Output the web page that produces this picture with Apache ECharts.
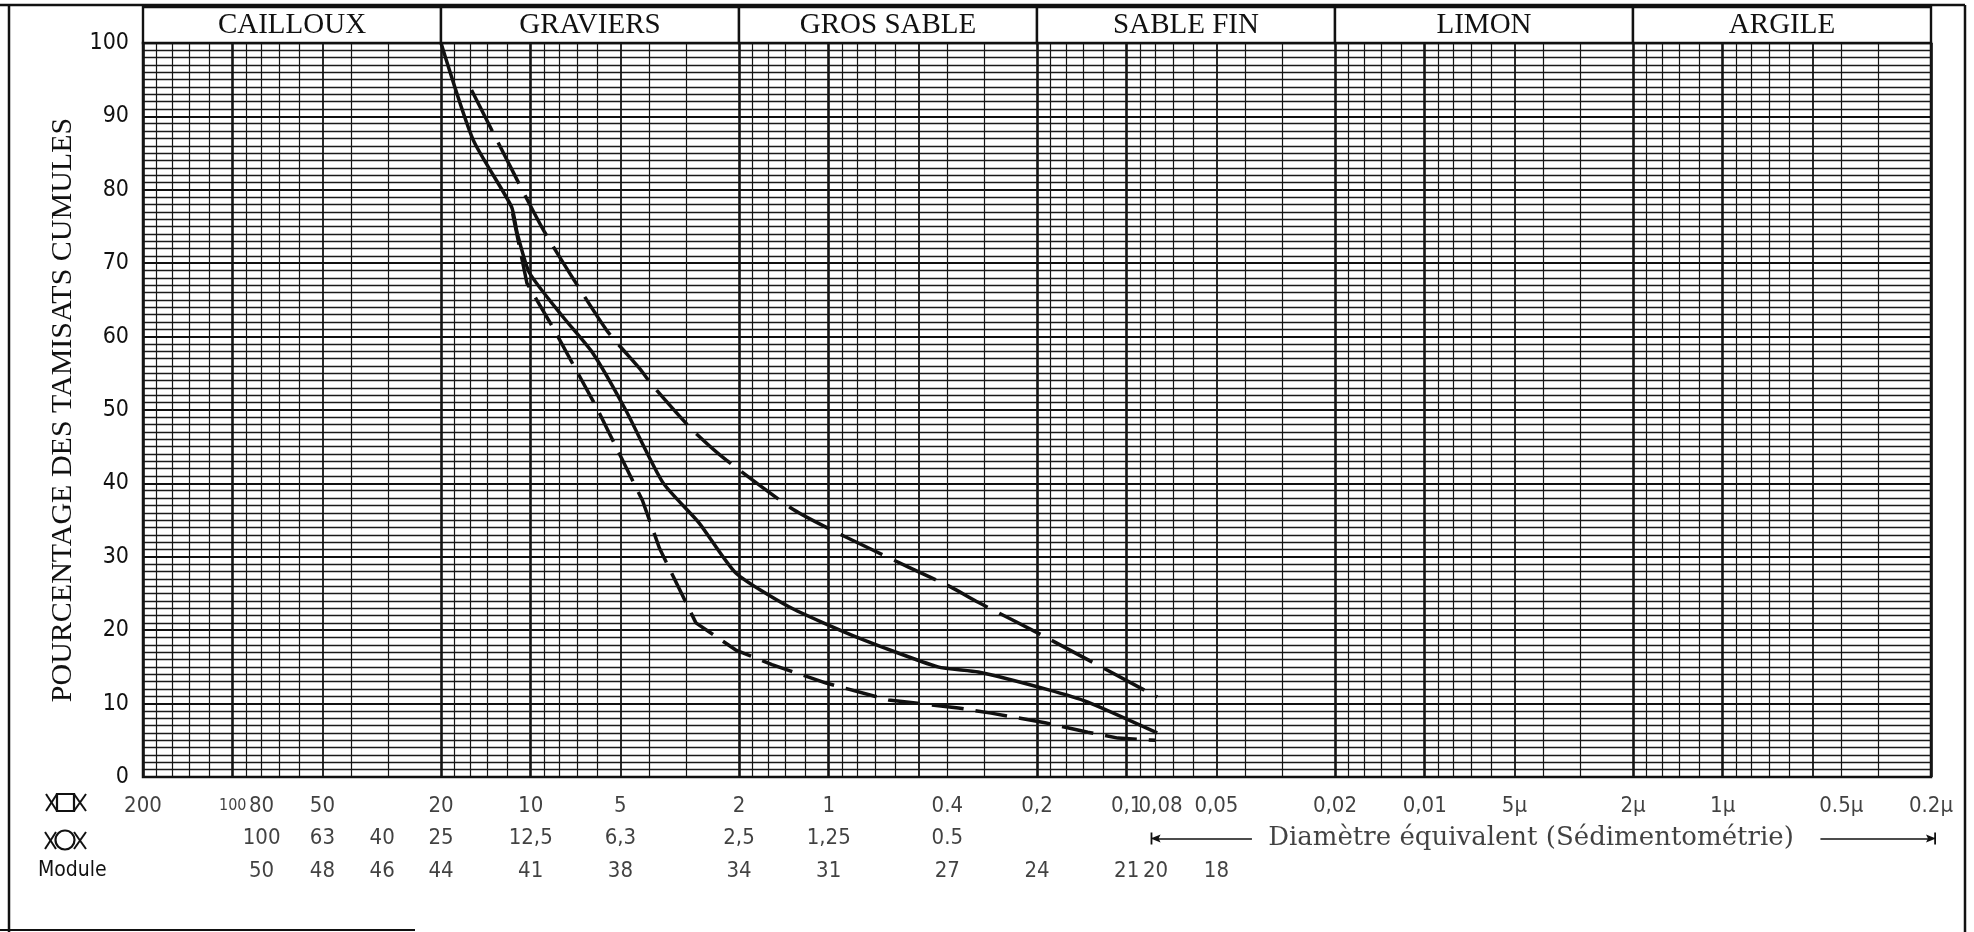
<!DOCTYPE html>
<html>
<head>
<meta charset="utf-8">
<title>Courbe granulométrique</title>
<script src="https://cdn.jsdelivr.net/npm/echarts@6/dist/echarts.min.js"></script>
<style>
html,body{margin:0;padding:0;background:#fff;}
#chart{width:1974px;height:932px;}
</style>
</head>
<body>
<div id="chart"></div>
<script>
// domaines granulometriques (en-tete) et leurs bornes en mm
var domaines = ['CAILLOUX', 'GRAVIERS', 'GROS SABLE', 'SABLE FIN', 'LIMON', 'ARGILE'];
var bornes = [200, 20, 2, 0.2, 0.02, 0.002, 0.0002];

// papier log : mantisses et decades du quadrillage vertical
var mantisses = [1.2, 1.4, 1.6, 1.8, 2, 3, 4, 5, 6, 7, 8, 9, 10];
var decades = [0.0001, 0.001, 0.01, 0.1, 1, 10, 100];

// ligne 1 : tamis a mailles carrees
var posCarres = [200, 100, 80, 50, 20, 10, 5, 2, 1, 0.4, 0.2, 0.1, 0.077, 0.05, 0.02, 0.01, 0.005, 0.002, 0.001, 0.0004, 0.0002];
var txtCarres = ['200', '100', '80', '50', '20', '10', '5', '2', '1', '0.4', '0,2', '0,1', '0,08', '0,05', '0,02', '0,01', '5µ', '2µ', '1µ', '0.5µ', '0.2µ'];
// ligne 2 : passoires a trous ronds
var posRonds = [80, 50, 31.5, 20, 10, 5, 2, 1, 0.4];
var txtRonds = ['100', '63', '40', '25', '12,5', '6,3', '2,5', '1,25', '0.5'];
// ligne 3 : module
var posModules = [80, 50, 31.5, 20, 10, 5, 2, 1, 0.4, 0.2, 0.1, 0.08, 0.05];
var txtModules = ['50', '48', '46', '44', '41', '38', '34', '31', '27', '24', '21', '20', '18'];

// courbes : [diametre mm, % tamisat cumule]
var courbe = [[20, 100], [15.6, 86.8], [11.6, 77.7], [11.1, 74.1], [10.1, 68.7], [7.8, 62.7], [6.2, 57.8], [4.8, 50], [3.6, 40.1], [2.72, 34.6], [2.05, 27.8], [1.36, 23.2], [0.81, 19.1], [0.43, 15], [0.315, 14.3], [0.184, 11.9], [0.135, 10.2], [0.079, 6]];
var fuseauHaut = [[15.8, 93.6], [13, 86.8], [9, 74.3], [5.57, 60.9], [4.32, 55.7], [3.91, 53.4], [2.87, 47.3], [2.21, 43.2], [1.31, 36.4], [0.93, 33.2], [0.54, 28.6], [0.39, 25.9], [0.315, 23.8], [0.188, 19.1], [0.079, 10.9]];
var fuseauBas = [[11.5, 76.8], [10.3, 67.3], [8.44, 61.3], [6.02, 50.4], [4.22, 37.7], [3.7, 31.2], [2.79, 21], [2.05, 17.3], [1.55, 15.3], [1.02, 12.8], [0.63, 10.5], [0.367, 9.4], [0.285, 8.7], [0.188, 7.4], [0.135, 6.1], [0.107, 5.3], [0.08, 5]];

var noir = '#111';
var sans = "'DejaVu Sans Condensed', 'Liberation Sans Narrow', 'DejaVu Sans', sans-serif";
var serif = "'Liberation Serif', 'DejaVu Serif', serif";

// lignes verticales du papier log
var lignesV = [];
decades.forEach(function (d) {
	mantisses.forEach(function (m) {
		var v = +(m * d).toPrecision(6);
		if (v < 0.0002 || v > 200) return;
		var w = (m === 10 || m === 2) ? 2.6 : (m === 5 ? 1.8 : 1.2);
		lignesV.push({xAxis: v, lineStyle: {width: w}});
	});
});

function etiquettes(pos, txt, rang) {
	return pos.map(function (v, i) {
		return {name: txt[i], value: [v, rang]};
	});
}

function serieEtiquettes(pos, txt, rang) {
	return {
		type: 'scatter', xAxisIndex: 2, yAxisIndex: 2, silent: true,
		symbolSize: 1, itemStyle: {color: 'rgba(0,0,0,0)'},
		label: {show: true, position: 'inside', formatter: '{b}', color: noir, fontFamily: sans, fontSize: 22},
		data: etiquettes(pos, txt, rang)
	};
}

function croix(x0, x1, y0, y1) {
	return [
		{type: 'line', shape: {x1: x0, y1: y0, x2: x1, y2: y1}, style: {stroke: noir, lineWidth: 2}},
		{type: 'line', shape: {x1: x0, y1: y1, x2: x1, y2: y0}, style: {stroke: noir, lineWidth: 2}}
	];
}

var fleche = 'path://M0,0 L12,0 L12,1.8 L0,1.8 Z M6,0 L10,10 L6,8 L2,10 Z';

var axeLog = {type: 'log', logBase: 10, min: 0.0002, max: 200, inverse: true, show: false};

var ligneCarres = serieEtiquettes(posCarres, txtCarres, 'r1');
// le "100" est serre contre le "80" sur l'abaque
ligneCarres.data[1].label = {fontSize: 16};

var myChart = echarts.init(document.getElementById('chart'));

var option = {
	animation: false,
	backgroundColor: '#fff',
	grid: [
		{left: 143, top: 43, width: 1788, height: 734, show: true, borderColor: noir, borderWidth: 2.5},
		{left: 143, top: 7, width: 1788, height: 36},
		{left: 143, top: 790, width: 1788, height: 97}
	],
	xAxis: [
		Object.assign({gridIndex: 0}, axeLog),
		Object.assign({gridIndex: 1}, axeLog),
		Object.assign({gridIndex: 2}, axeLog)
	],
	yAxis: [{
		gridIndex: 0, type: 'value', min: 0, max: 100, interval: 10,
		name: 'POURCENTAGE DES TAMISATS CUMULES',
		nameLocation: 'middle', nameGap: 60, nameRotate: 90,
		nameTextStyle: {fontFamily: serif, fontSize: 30, color: noir},
		axisLine: {show: false},
		axisTick: {show: false},
		axisLabel: {color: noir, fontFamily: sans, fontSize: 23, margin: 14},
		splitLine: {lineStyle: {color: noir, width: 2}},
		minorTick: {show: false, splitNumber: 10},
		minorSplitLine: {show: true, lineStyle: {color: '#1a1a1a', width: 1.3}}
	}, {
		gridIndex: 1, type: 'value', min: 0, max: 1, show: false
	}, {
		gridIndex: 2, type: 'category', data: ['r1', 'r2', 'r3'], inverse: true, show: false
	}],
	graphic: [
		{type: 'line', shape: {x1: 9, y1: 5, x2: 9, y2: 932}, style: {stroke: noir, lineWidth: 2.5}},
		{type: 'line', shape: {x1: 0, y1: 5, x2: 1965, y2: 5}, style: {stroke: noir, lineWidth: 2.5}},
		{type: 'line', shape: {x1: 1965, y1: 5, x2: 1965, y2: 932}, style: {stroke: noir, lineWidth: 2.5}},
		{type: 'line', shape: {x1: 0, y1: 930, x2: 415, y2: 930}, style: {stroke: noir, lineWidth: 2}},
		// symbole tamis carre
		{type: 'rect', shape: {x: 57, y: 794, width: 17, height: 17}, style: {stroke: noir, fill: 'none', lineWidth: 2.2}}
	].concat(croix(46, 57, 794, 811), croix(74, 86, 794, 811), [
		// symbole passoire ronde
		{type: 'circle', shape: {cx: 65, cy: 840, r: 9.5}, style: {stroke: noir, fill: 'none', lineWidth: 2.2}},
		{type: 'text', left: 38, top: 860, style: {text: 'Module', fill: noir, font: '21px ' + sans}}
	]).concat(croix(45, 56, 832, 849), croix(74, 86, 832, 849)),
	series: [{
		// quadrillage vertical
		type: 'line', xAxisIndex: 0, yAxisIndex: 0, data: [], silent: true, z: 1,
		markLine: {
			silent: true, animation: false, symbol: ['none', 'none'], precision: 8,
			label: {show: false}, emphasis: {disabled: true},
			lineStyle: {color: '#151515', type: 'solid', width: 1.2},
			data: lignesV
		}
	}, {
		name: 'Courbe', type: 'line', xAxisIndex: 0, yAxisIndex: 0, z: 5,
		showSymbol: false, smooth: 0.2,
		lineStyle: {color: noir, width: 3.5},
		data: courbe
	}, {
		name: 'Fuseau haut', type: 'line', xAxisIndex: 0, yAxisIndex: 0, z: 5,
		showSymbol: false, smooth: 0.2,
		lineStyle: {color: noir, width: 3.5, type: [46, 13]},
		data: fuseauHaut
	}, {
		name: 'Fuseau bas', type: 'line', xAxisIndex: 0, yAxisIndex: 0, z: 5,
		showSymbol: false,
		lineStyle: {color: noir, width: 3.5, type: [32, 12]},
		data: fuseauBas
	}, {
		// en-tete des domaines
		type: 'line', xAxisIndex: 1, yAxisIndex: 1, data: [], silent: true,
		markArea: {
			silent: true,
			itemStyle: {color: '#fff', borderColor: noir, borderWidth: 2.4},
			label: {show: true, position: 'inside', color: noir, fontFamily: serif, fontSize: 29},
			data: domaines.map(function (nom, i) {
				return [{name: nom, xAxis: bornes[i]}, {xAxis: bornes[i + 1]}];
			})
		}
	},
	ligneCarres,
	serieEtiquettes(posRonds, txtRonds, 'r2'),
	serieEtiquettes(posModules, txtModules, 'r3'),
	{
		// diametre equivalent (sedimentometrie)
		type: 'scatter', xAxisIndex: 2, yAxisIndex: 2, silent: true,
		symbolSize: 1, itemStyle: {color: 'rgba(0,0,0,0)'},
		label: {show: true, position: 'inside', formatter: '{b}', color: noir, fontFamily: "'DejaVu Serif', serif", fontSize: 26},
		data: [{name: 'Diamètre équivalent (Sédimentométrie)', value: [0.0044, 'r2']}],
		markLine: {
			silent: true, animation: false, label: {show: false}, precision: 8,
			symbolSize: [12, 10],
			lineStyle: {color: noir, width: 1.6, type: 'solid'},
			data: [
				[{coord: [0.08, 'r2'], symbol: fleche}, {coord: [0.038, 'r2'], symbol: 'none'}],
				[{coord: [0.00047, 'r2'], symbol: 'none'}, {coord: [0.0002, 'r2'], symbol: fleche}]
			]
		}
	}]
};

myChart.setOption(option);
</script>
</body>
</html>
